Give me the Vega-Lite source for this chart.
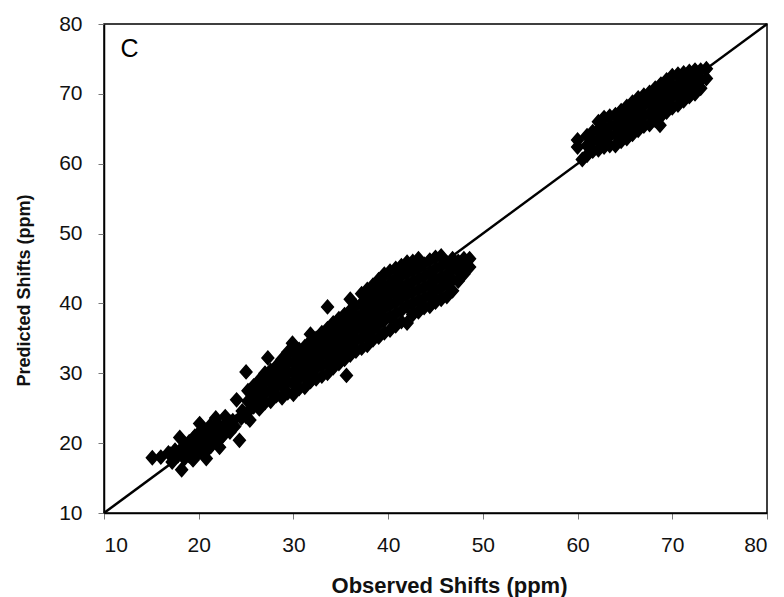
{
  "$schema": "https://vega.github.io/schema/vega-lite/v6.json",
  "autosize": {"type": "none"},
  "width": 663,
  "height": 489,
  "padding": {"left": 104, "top": 24, "right": 17, "bottom": 84},
  "background": "white",
  "config": {
    "view": {"stroke": "black", "strokeWidth": 1.5},
    "font": "Liberation Sans",
    "axis": {"grid": false, "domainColor": "black", "domainWidth": 1.5, "tickColor": "#777", "tickWidth": 1, "tickSize": 6, "labelFont": "Liberation Sans", "labelColor": "#111", "titleFont": "Liberation Sans", "titleColor": "#111", "titleFontWeight": "bold"}
  },
  "layer": [
    {
      "data": {"values": [
        {"obs":15.1,"pred":17.9},{"obs":16.0,"pred":18.0},{"obs":16.8,"pred":18.6},{"obs":17.2,"pred":17.3},{"obs":17.5,"pred":19.0},{"obs":17.8,"pred":18.2},{"obs":18.0,"pred":20.8},{"obs":18.2,"pred":16.2},{"obs":18.3,"pred":19.3},{"obs":18.5,"pred":17.8},{"obs":18.8,"pred":18.7},{"obs":19.0,"pred":20.2},{"obs":19.2,"pred":19.0},{"obs":19.4,"pred":17.6},{"obs":19.6,"pred":21.0},{"obs":19.8,"pred":19.8},{"obs":20.0,"pred":18.6},{"obs":20.1,"pred":22.8},{"obs":20.3,"pred":20.3},{"obs":20.5,"pred":19.2},{"obs":20.6,"pred":21.6},{"obs":20.8,"pred":17.8},{"obs":21.0,"pred":20.8},{"obs":21.2,"pred":22.5},{"obs":21.3,"pred":19.6},{"obs":21.5,"pred":21.3},{"obs":21.8,"pred":23.6},{"obs":22.0,"pred":20.6},{"obs":22.2,"pred":19.4},{"obs":22.3,"pred":22.2},{"obs":22.6,"pred":21.2},{"obs":22.8,"pred":23.8},{"obs":23.0,"pred":22.4},{"obs":23.3,"pred":21.6},{"obs":23.6,"pred":23.2},{"obs":24.0,"pred":26.2},{"obs":24.3,"pred":20.4},{"obs":24.5,"pred":23.6},{"obs":25.0,"pred":23.8},{"obs":25.4,"pred":23.3},
        {"obs":19.0,"pred":18.2},{"obs":19.9,"pred":21.2},{"obs":20.9,"pred":19.0},{"obs":21.7,"pred":22.0},{"obs":22.4,"pred":20.8},{"obs":23.4,"pred":23.0},
        {"obs":17.0,"pred":18.4},{"obs":18.0,"pred":18.9},{"obs":18.6,"pred":19.8},{"obs":19.4,"pred":20.6},{"obs":20.4,"pred":22.0},{"obs":21.0,"pred":21.8},{"obs":21.6,"pred":20.4},{"obs":22.0,"pred":22.8},{"obs":22.8,"pred":22.6},{"obs":23.8,"pred":22.4},{"obs":24.6,"pred":24.6},{"obs":19.6,"pred":18.4},{"obs":20.4,"pred":19.8},
        {"obs":25.0,"pred":30.2},{"obs":25.2,"pred":24.5},{"obs":25.2,"pred":26.0},{"obs":25.2,"pred":27.5},{"obs":25.8,"pred":25.2},{"obs":25.8,"pred":26.8},{"obs":25.8,"pred":28.2},
        {"obs":26.4,"pred":24.9},{"obs":26.4,"pred":26.2},{"obs":26.4,"pred":27.6},{"obs":26.4,"pred":29.0},
        {"obs":27.0,"pred":25.8},{"obs":27.0,"pred":27.2},{"obs":27.0,"pred":28.6},{"obs":27.0,"pred":30.0},{"obs":27.3,"pred":32.2},
        {"obs":27.6,"pred":26.0},{"obs":27.6,"pred":27.5},{"obs":27.6,"pred":29.0},{"obs":27.6,"pred":30.4},
        {"obs":28.2,"pred":26.8},{"obs":28.2,"pred":28.2},{"obs":28.2,"pred":29.6},{"obs":28.2,"pred":31.0},
        {"obs":28.8,"pred":26.5},{"obs":28.8,"pred":28.0},{"obs":28.8,"pred":29.4},{"obs":28.8,"pred":30.8},{"obs":28.8,"pred":32.0},
        {"obs":29.4,"pred":27.2},{"obs":29.4,"pred":28.8},{"obs":29.4,"pred":30.2},{"obs":29.4,"pred":31.6},{"obs":29.4,"pred":33.0},{"obs":29.9,"pred":34.3},
        {"obs":30.0,"pred":27.0},{"obs":30.0,"pred":28.5},{"obs":30.0,"pred":30.0},{"obs":30.0,"pred":31.4},{"obs":30.0,"pred":32.8},
        {"obs":30.6,"pred":27.8},{"obs":30.6,"pred":29.2},{"obs":30.6,"pred":30.6},{"obs":30.6,"pred":32.0},{"obs":30.6,"pred":33.4},
        {"obs":31.2,"pred":28.0},{"obs":31.2,"pred":29.6},{"obs":31.2,"pred":31.0},{"obs":31.2,"pred":32.4},{"obs":31.2,"pred":33.8},
        {"obs":31.8,"pred":28.8},{"obs":31.8,"pred":30.2},{"obs":31.8,"pred":31.6},{"obs":31.8,"pred":33.0},{"obs":31.8,"pred":34.6},{"obs":31.8,"pred":35.6},
        {"obs":32.4,"pred":29.2},{"obs":32.4,"pred":30.8},{"obs":32.4,"pred":32.2},{"obs":32.4,"pred":33.6},{"obs":32.4,"pred":35.0},
        {"obs":33.0,"pred":29.6},{"obs":33.0,"pred":31.2},{"obs":33.0,"pred":32.8},{"obs":33.0,"pred":34.2},{"obs":33.0,"pred":35.8},
        {"obs":33.6,"pred":30.0},{"obs":33.6,"pred":31.6},{"obs":33.6,"pred":33.2},{"obs":33.6,"pred":34.8},{"obs":33.6,"pred":36.4},{"obs":33.6,"pred":39.5},
        {"obs":34.2,"pred":30.8},{"obs":34.2,"pred":32.4},{"obs":34.2,"pred":34.0},{"obs":34.2,"pred":35.6},{"obs":34.2,"pred":37.2},
        {"obs":34.8,"pred":31.4},{"obs":34.8,"pred":33.0},{"obs":34.8,"pred":34.6},{"obs":34.8,"pred":36.2},{"obs":34.8,"pred":37.8},
        {"obs":35.4,"pred":32.0},{"obs":35.4,"pred":33.6},{"obs":35.4,"pred":35.2},{"obs":35.4,"pred":36.8},{"obs":35.4,"pred":38.4},{"obs":35.6,"pred":29.7},
        {"obs":36.0,"pred":32.6},{"obs":36.0,"pred":34.2},{"obs":36.0,"pred":35.8},{"obs":36.0,"pred":37.4},{"obs":36.0,"pred":39.0},{"obs":36.0,"pred":40.6},
        {"obs":36.6,"pred":33.2},{"obs":36.6,"pred":34.8},{"obs":36.6,"pred":36.4},{"obs":36.6,"pred":38.0},{"obs":36.6,"pred":39.6},
        {"obs":37.2,"pred":33.6},{"obs":37.2,"pred":35.2},{"obs":37.2,"pred":36.8},{"obs":37.2,"pred":38.4},{"obs":37.2,"pred":40.0},{"obs":37.2,"pred":41.4},
        {"obs":37.8,"pred":34.0},{"obs":37.8,"pred":35.8},{"obs":37.8,"pred":37.4},{"obs":37.8,"pred":39.0},{"obs":37.8,"pred":40.6},{"obs":37.8,"pred":42.0},
        {"obs":38.4,"pred":34.8},{"obs":38.4,"pred":36.4},{"obs":38.4,"pred":38.0},{"obs":38.4,"pred":39.6},{"obs":38.4,"pred":41.2},{"obs":38.4,"pred":42.6},
        {"obs":39.0,"pred":35.2},{"obs":39.0,"pred":37.0},{"obs":39.0,"pred":38.6},{"obs":39.0,"pred":40.2},{"obs":39.0,"pred":41.8},{"obs":39.0,"pred":43.4},
        {"obs":39.6,"pred":35.8},{"obs":39.6,"pred":37.6},{"obs":39.6,"pred":39.2},{"obs":39.6,"pred":40.8},{"obs":39.6,"pred":42.4},{"obs":39.6,"pred":44.2},
        {"obs":40.2,"pred":36.2},{"obs":40.2,"pred":38.0},{"obs":40.2,"pred":39.8},{"obs":40.2,"pred":41.4},{"obs":40.2,"pred":43.0},{"obs":40.2,"pred":44.6},
        {"obs":40.8,"pred":36.8},{"obs":40.8,"pred":38.6},{"obs":40.8,"pred":40.2},{"obs":40.8,"pred":41.8},{"obs":40.8,"pred":43.4},{"obs":40.8,"pred":45.0},
        {"obs":41.4,"pred":37.4},{"obs":41.4,"pred":39.0},{"obs":41.4,"pred":40.8},{"obs":41.4,"pred":42.4},{"obs":41.4,"pred":44.0},{"obs":41.4,"pred":45.4},
        {"obs":42.0,"pred":37.2},{"obs":42.0,"pred":39.6},{"obs":42.0,"pred":41.2},{"obs":42.0,"pred":42.8},{"obs":42.0,"pred":44.4},{"obs":42.0,"pred":45.9},
        {"obs":42.6,"pred":38.4},{"obs":42.6,"pred":40.0},{"obs":42.6,"pred":41.6},{"obs":42.6,"pred":43.2},{"obs":42.6,"pred":44.8},{"obs":42.6,"pred":46.0},
        {"obs":43.2,"pred":38.8},{"obs":43.2,"pred":40.4},{"obs":43.2,"pred":42.0},{"obs":43.2,"pred":43.6},{"obs":43.2,"pred":45.2},{"obs":43.2,"pred":46.4},
        {"obs":43.8,"pred":39.4},{"obs":43.8,"pred":40.8},{"obs":43.8,"pred":42.4},{"obs":43.8,"pred":44.0},{"obs":43.8,"pred":45.6},
        {"obs":44.4,"pred":39.6},{"obs":44.4,"pred":41.2},{"obs":44.4,"pred":42.8},{"obs":44.4,"pred":44.4},{"obs":44.4,"pred":46.2},
        {"obs":45.0,"pred":40.2},{"obs":45.0,"pred":41.8},{"obs":45.0,"pred":43.4},{"obs":45.0,"pred":45.0},{"obs":45.0,"pred":46.6},
        {"obs":45.6,"pred":40.6},{"obs":45.6,"pred":42.2},{"obs":45.6,"pred":43.8},{"obs":45.6,"pred":45.4},{"obs":45.6,"pred":46.8},
        {"obs":46.2,"pred":41.0},{"obs":46.2,"pred":42.8},{"obs":46.2,"pred":44.2},{"obs":46.2,"pred":45.8},
        {"obs":46.8,"pred":41.8},{"obs":46.8,"pred":43.4},{"obs":46.8,"pred":45.0},{"obs":46.8,"pred":46.4},
        {"obs":47.4,"pred":43.2},{"obs":47.4,"pred":44.6},{"obs":47.4,"pred":46.0},
        {"obs":48.0,"pred":44.2},{"obs":48.0,"pred":45.6},{"obs":48.0,"pred":46.4},
        {"obs":48.6,"pred":45.2},{"obs":48.6,"pred":46.4},
        {"obs":60.0,"pred":62.4},{"obs":60.0,"pred":63.4},{"obs":60.5,"pred":60.6},
        {"obs":61.0,"pred":61.2},{"obs":61.0,"pred":62.6},{"obs":61.0,"pred":64.0},
        {"obs":61.6,"pred":61.8},{"obs":61.6,"pred":63.2},{"obs":61.6,"pred":64.6},
        {"obs":62.2,"pred":62.0},{"obs":62.2,"pred":63.4},{"obs":62.2,"pred":64.8},{"obs":62.2,"pred":66.0},
        {"obs":62.8,"pred":62.4},{"obs":62.8,"pred":63.8},{"obs":62.8,"pred":65.2},{"obs":62.8,"pred":66.6},
        {"obs":63.4,"pred":62.6},{"obs":63.4,"pred":64.0},{"obs":63.4,"pred":65.4},{"obs":63.4,"pred":66.8},
        {"obs":64.0,"pred":62.6},{"obs":64.0,"pred":64.2},{"obs":64.0,"pred":65.6},{"obs":64.0,"pred":67.0},
        {"obs":64.6,"pred":63.2},{"obs":64.6,"pred":64.6},{"obs":64.6,"pred":66.0},{"obs":64.6,"pred":67.6},
        {"obs":65.2,"pred":63.6},{"obs":65.2,"pred":65.0},{"obs":65.2,"pred":66.6},{"obs":65.2,"pred":68.2},
        {"obs":65.8,"pred":64.2},{"obs":65.8,"pred":65.6},{"obs":65.8,"pred":67.2},{"obs":65.8,"pred":68.8},
        {"obs":66.4,"pred":64.8},{"obs":66.4,"pred":66.2},{"obs":66.4,"pred":67.8},{"obs":66.4,"pred":69.4},
        {"obs":67.0,"pred":65.4},{"obs":67.0,"pred":66.8},{"obs":67.0,"pred":68.4},{"obs":67.0,"pred":69.8},
        {"obs":67.6,"pred":65.6},{"obs":67.6,"pred":67.2},{"obs":67.6,"pred":68.8},{"obs":67.6,"pred":70.2},
        {"obs":68.2,"pred":66.2},{"obs":68.2,"pred":67.8},{"obs":68.2,"pred":69.4},{"obs":68.2,"pred":70.8},{"obs":68.7,"pred":65.5},
        {"obs":68.8,"pred":66.8},{"obs":68.8,"pred":68.4},{"obs":68.8,"pred":70.0},{"obs":68.8,"pred":71.4},
        {"obs":69.4,"pred":67.4},{"obs":69.4,"pred":69.0},{"obs":69.4,"pred":70.6},{"obs":69.4,"pred":72.0},
        {"obs":70.0,"pred":68.0},{"obs":70.0,"pred":69.6},{"obs":70.0,"pred":71.0},{"obs":70.0,"pred":72.6},
        {"obs":70.6,"pred":68.4},{"obs":70.6,"pred":70.0},{"obs":70.6,"pred":71.4},{"obs":70.6,"pred":72.8},
        {"obs":71.2,"pred":69.0},{"obs":71.2,"pred":70.4},{"obs":71.2,"pred":71.8},{"obs":71.2,"pred":73.0},
        {"obs":71.8,"pred":69.6},{"obs":71.8,"pred":71.0},{"obs":71.8,"pred":72.4},{"obs":71.8,"pred":73.2},
        {"obs":72.4,"pred":70.0},{"obs":72.4,"pred":71.4},{"obs":72.4,"pred":72.8},{"obs":72.4,"pred":73.4},
        {"obs":73.0,"pred":70.8},{"obs":73.0,"pred":72.0},{"obs":73.0,"pred":73.4},
        {"obs":73.6,"pred":72.2},{"obs":73.6,"pred":73.6}
      ]},
      "mark": {"type": "point", "shape": "M-1,0L0,-1.15L1,0L0,1.15Z", "filled": true, "color": "black", "stroke": "black", "strokeWidth": 1.5, "opacity": 1, "size": 140},
      "encoding": {
        "x": {"field": "obs", "type": "quantitative", "scale": {"domain": [10, 80], "nice": false, "zero": false},
          "axis": {"values": [10,20,30,40,50,60,70,80], "title": "Observed Shifts (ppm)", "labelFontSize": 21, "labelPadding": 15, "titleFontSize": 22, "titleX": 345, "titleY": 79, "titleBaseline": "alphabetic", "titleAlign": "center"}},
        "y": {"field": "pred", "type": "quantitative", "scale": {"domain": [10, 80], "nice": false, "zero": false},
          "axis": {"values": [10,20,30,40,50,60,70,80], "title": "Predicted Shifts (ppm)", "labelFontSize": 21, "labelPadding": 16, "titleFontSize": 18, "titleAngle": -90, "titleX": -75, "titleY": 266, "titleBaseline": "alphabetic", "titleAlign": "center"}}
      }
    },
    {
      "data": {"values": [{"obs": 10, "pred": 10}, {"obs": 80, "pred": 80}]},
      "mark": {"type": "line", "color": "black", "strokeWidth": 2.5},
      "encoding": {
        "x": {"field": "obs", "type": "quantitative"},
        "y": {"field": "pred", "type": "quantitative"}
      }
    },
    {
      "data": {"values": [{"obs": 12.7, "pred": 76.4, "label": "C"}]},
      "mark": {"type": "text", "fontSize": 25, "color": "black", "align": "center", "baseline": "middle", "font": "Liberation Sans"},
      "encoding": {
        "x": {"field": "obs", "type": "quantitative"},
        "y": {"field": "pred", "type": "quantitative"},
        "text": {"field": "label"}
      }
    }
  ]
}
